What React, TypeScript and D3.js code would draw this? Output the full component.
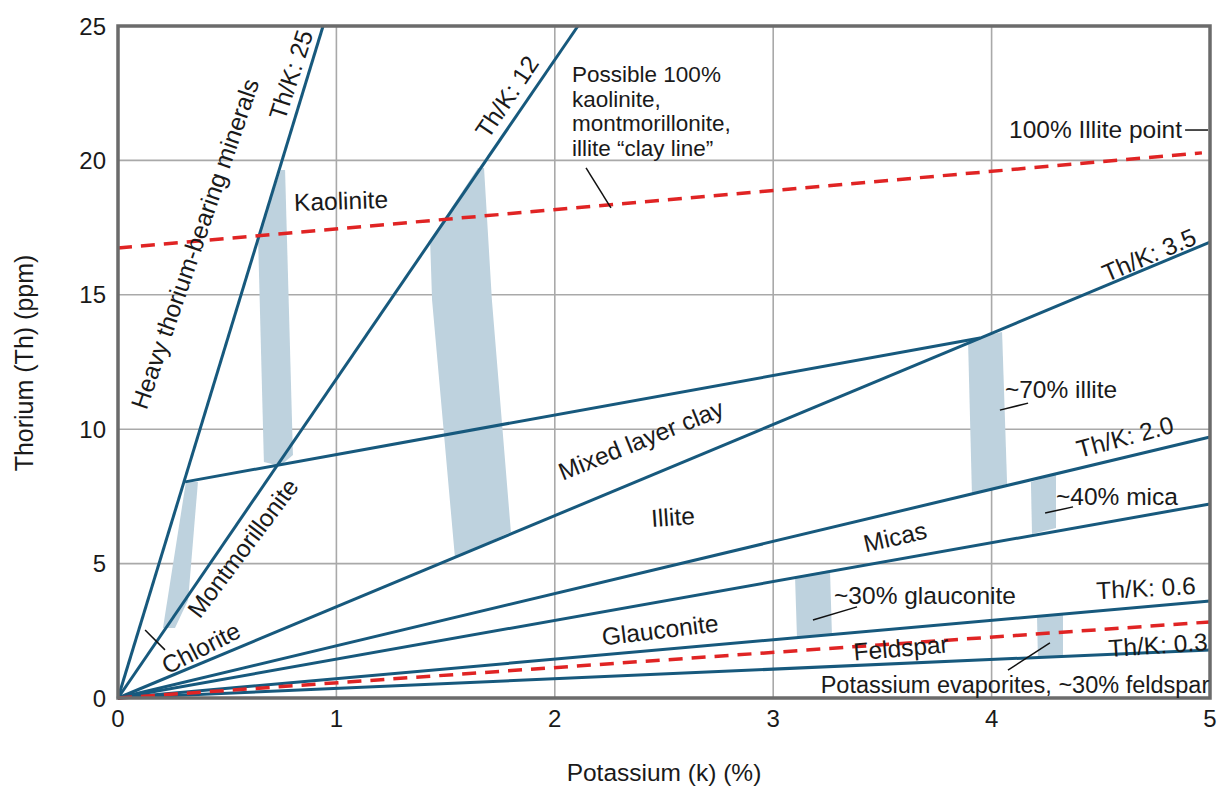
import React from "react";
import * as d3 from "d3";

// Th/K ratio lines from the origin: end point [K %, Th ppm]
const ratioLines: [number, number][] = [
    [0.939, 25],
    [2.106, 25],
    [5, 16.96],
    [5, 9.71],
    [5, 7.22],
    [5, 3.61],
    [5, 1.79],
];

const mixedLayerLine: [number, number][] = [
    [0.307, 8.04],
    [3.947, 13.39],
];

const clayLine: [number, number][] = [
    [0, 16.74],
    [4.963, 20.28],
];

const feldsparLine: [number, number][] = [
    [0, 0],
    [5, 2.83],
];

// shaded mineral transition bands
const bands: [number, number][][] = [
    [[0.311, 8.04], [0.366, 8.04], [0.321, 3.65], [0.261, 2.6], [0.206, 2.6]],
    [[0.746, 19.64], [0.765, 19.64], [0.801, 9.04], [0.742, 8.63], [0.668, 8.78], [0.641, 17.22]],
    [[1.648, 19.72], [1.676, 19.72], [1.712, 14.81], [1.799, 6.18], [1.543, 5.21], [1.438, 14.81], [1.429, 17.04]],
    [[3.892, 13.32], [4.048, 13.62], [4.071, 7.96], [3.91, 7.59]],
    [[4.18, 8.04], [4.295, 8.33], [4.295, 6.32], [4.185, 6.1]],
    [[3.1, 4.5], [3.26, 4.76], [3.269, 2.34], [3.109, 2.23]],
    [[4.208, 3.01], [4.327, 3.16], [4.327, 1.56], [4.212, 1.49]],
];

// labels: text, K, Th, rotation, size
const labels: { text: string; k: number; th: number; rot: number; size?: number }[] = [
    { text: "Th/K: 25", k: 0.792, th: 23.18, rot: -72 },
    { text: "Heavy thorium-bearing minerals", k: 0.352, th: 16.9, rot: -71 },
    { text: "Kaolinite", k: 1.021, th: 18.49, rot: -2 },
    { text: "Th/K: 12", k: 1.781, th: 22.36, rot: -56 },
    { text: "Th/K: 3.5", k: 4.721, th: 16.48, rot: -23 },
    { text: "Mixed layer clay", k: 2.395, th: 9.6, rot: -22 },
    { text: "Illite", k: 2.541, th: 6.73, rot: -4 },
    { text: "Montmorillonite", k: 0.572, th: 5.58, rot: -53 },
    { text: "Chlorite", k: 0.38, th: 1.86, rot: -27 },
    { text: "~70% illite", k: 4.318, th: 11.46, rot: 0 },
    { text: "Th/K: 2.0", k: 4.611, th: 9.71, rot: -15 },
    { text: "~40% mica", k: 4.574, th: 7.48, rot: 0 },
    { text: "Micas", k: 3.558, th: 5.99, rot: -13 },
    { text: "~30% glauconite", k: 3.695, th: 3.83, rot: 0 },
    { text: "Th/K: 0.6", k: 4.707, th: 4.09, rot: -3 },
    { text: "Glauconite", k: 2.482, th: 2.53, rot: -7 },
    { text: "Feldspar", k: 3.585, th: 1.86, rot: -5 },
    { text: "Th/K: 0.3", k: 4.762, th: 1.97, rot: -4 },
    { text: "Potassium evaporites, ~30% feldspar", k: 4.107, th: 0.48, rot: 0, size: 23.5 },
];

// multi-line note, one baseline per line (Th ppm)
const clayNote = ["Possible 100%", "kaolinite,", "montmorillonite,", "illite \u201cclay line\u201d"];
const clayNoteBaselines = [22.92, 22.0, 21.08, 20.16];

// short black leader lines
const leaders: [number, number][][] = [
    [[2.143, 19.72], [2.257, 18.23]],
    [[4.886, 21.13], [4.991, 21.13]],
    [[0.124, 2.53], [0.215, 1.79]],
    [[4.038, 10.71], [4.167, 10.97]],
    [[4.245, 6.88], [4.373, 7.11]],
    [[3.182, 2.9], [3.384, 3.39]],
    [[4.075, 1.04], [4.267, 2.05]],
];

const xTicks = [0, 1, 2, 3, 4, 5];
const yTicks = [0, 5, 10, 15, 20, 25];

const FONT = "'Liberation Sans', Arial, sans-serif";
const BLUE = "#17597d";
const RED = "#e02424";
const LABEL_SIZE = 24.5;

export default function App() {
    const x = d3.scaleLinear().domain([0, 5]).range([118, 1210]);
    const y = d3.scaleLinear().domain([0, 25]).range([698, 26]);
    const line = d3
        .line<[number, number]>()
        .x(d => x(d[0]))
        .y(d => y(d[1]));

    return (
        <svg
            width={1225}
            height={787}
            style={{ position: "absolute", left: 0, top: 0, background: "#fff" }}
            fontFamily={FONT}
        >
            {/* grid */}
            {xTicks.slice(1, -1).map(t => (
                <line key={"gx" + t} x1={x(t)} x2={x(t)} y1={y(0)} y2={y(25)} stroke="#a9a9a9" strokeWidth={1.6} />
            ))}
            {yTicks.slice(1, -1).map(t => (
                <line key={"gy" + t} x1={x(0)} x2={x(5)} y1={y(t)} y2={y(t)} stroke="#a9a9a9" strokeWidth={1.6} />
            ))}

            {/* bands */}
            {bands.map((b, i) => (
                <path key={"b" + i} d={(line(b) || "") + "Z"} fill="#bed2de" stroke="none" />
            ))}

            {/* blue ratio lines */}
            {ratioLines.map((p, i) => (
                <path key={"r" + i} d={line([[0, 0], p]) || ""} stroke={BLUE} strokeWidth={3} fill="none" />
            ))}
            <path d={line(mixedLayerLine) || ""} stroke={BLUE} strokeWidth={3} fill="none" />

            {/* red dashed lines */}
            <path d={line(clayLine) || ""} stroke={RED} strokeWidth={3.5} strokeDasharray="14 9" fill="none" />
            <path d={line(feldsparLine) || ""} stroke={RED} strokeWidth={3.5} strokeDasharray="14 9" fill="none" />

            {/* leaders */}
            {leaders.map((l, i) => (
                <path key={"l" + i} d={line(l) || ""} stroke="#111" strokeWidth={1.5} fill="none" />
            ))}

            {/* frame */}
            <rect x={x(0)} y={y(25)} width={x(5) - x(0)} height={y(0) - y(25)} fill="none" stroke="#6b6b6b" strokeWidth={3.5} />

            {/* labels */}
            {labels.map((l, i) => (
                <text
                    key={"t" + i}
                    transform={`translate(${x(l.k)},${y(l.th)}) rotate(${l.rot})`}
                    textAnchor="middle"
                    dominantBaseline="central"
                    fontSize={l.size ?? LABEL_SIZE}
                    fill="#1a1a1a"
                >
                    {l.text}
                </text>
            ))}
            {clayNote.map((s, i) => (
                <text key={"n" + i} x={x(2.079)} y={y(clayNoteBaselines[i])} fontSize={22.5} fill="#1a1a1a">
                    {s}
                </text>
            ))}
            <text x={x(4.872)} y={y(20.83)} fontSize={LABEL_SIZE} textAnchor="end" fill="#1a1a1a">
                100% Illite point
            </text>

            {/* ticks */}
            {xTicks.map(t => (
                <text key={"xt" + t} x={x(t)} y={727} fontSize={24} textAnchor="middle" fill="#1a1a1a">
                    {t}
                </text>
            ))}
            {yTicks.map(t => (
                <text key={"yt" + t} x={106} y={y(t)} fontSize={24} textAnchor="end" dominantBaseline="central" fill="#1a1a1a">
                    {t}
                </text>
            ))}

            {/* axis titles */}
            <text x={664} y={781} fontSize={24.5} textAnchor="middle" fill="#1a1a1a">
                Potassium (k) (%)
            </text>
            <text
                transform="translate(24,363) rotate(-90)"
                fontSize={25}
                textAnchor="middle"
                dominantBaseline="central"
                fill="#1a1a1a"
            >
                Thorium (Th) (ppm)
            </text>
        </svg>
    );
}
